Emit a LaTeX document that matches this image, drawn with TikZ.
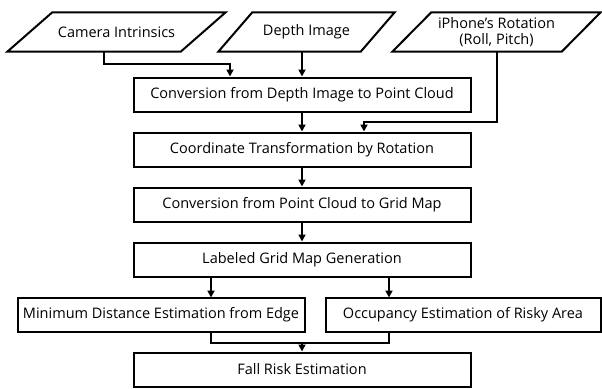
\documentclass[tikz,border=0pt]{standalone}
\usepackage{fontspec}
\setmainfont{Open Sans}
\usetikzlibrary{arrows.meta}

\begin{document}
\begin{tikzpicture}[x=1pt,y=-1pt,
    font=\fontsize{14.5}{16}\selectfont,
    inbox/.style={rectangle, minimum height=39, align=center, inner sep=1pt},
    procbox/.style={draw, line width=2pt, rectangle, minimum width=337, minimum height=34},
    flow/.style={line width=2pt, -{Triangle[length=7pt,width=7pt]}},
    plain/.style={line width=2pt, line join=miter}]
    \useasboundingbox (0,0) rectangle (602,388);
    % inputs (parallelograms drawn round their text nodes)
    \node[inbox, minimum width=218] (cam) at (116.5,32) {Camera Intrinsics};
    \node[inbox, minimum width=176] (depth) at (306.5,32) {Depth Image};
    \node[inbox, minimum width=208] (rot) at (496.5,32) {iPhone’s Rotation\\(Roll, Pitch)};
    \draw[plain] ([xshift=45pt]cam.north west) -- (cam.north east)
      -- ([xshift=-45pt]cam.south east) -- (cam.south west) -- cycle;
    \draw[plain] ([xshift=34pt]depth.north west) -- (depth.north east)
      -- ([xshift=-34pt]depth.south east) -- (depth.south west) -- cycle;
    \draw[plain] ([xshift=39pt]rot.north west) -- (rot.north east)
      -- ([xshift=-39pt]rot.south east) -- (rot.south west) -- cycle;
    % processing chain
    \node[procbox] (cloud) at (302,94.5) {Conversion from Depth Image to Point Cloud};
    \node[procbox] (trans) at (302,149.5) {Coordinate Transformation by Rotation};
    \node[procbox] (grid) at (302,204.5) {Conversion from Point Cloud to Grid Map};
    \node[procbox] (label) at (302,259.5) {Labeled Grid Map Generation};
    \node[procbox, minimum width=287] (edge) at (161,314.5) {Minimum Distance Estimation from Edge};
    \node[procbox, minimum width=275] (occ) at (463,314.5) {Occupancy Estimation of Risky Area};
    \node[procbox] (risk) at (302,369.5) {Fall Risk Estimation};
    % connectors
    \draw[flow] ([xshift=-12.5pt]cam.south) -- ++(0,12) -| ([xshift=-72pt]cloud.north);
    \draw[flow] (cloud.north |- depth.south) -- (cloud.north);
    \draw[flow] (cloud) -- (trans);
    \draw[flow] (rot.south) |- ([xshift=62pt,yshift=10pt]trans.north) -- ([xshift=62pt]trans.north);
    \draw[flow] (trans) -- (grid);
    \draw[flow] (grid) -- (label);
    \draw[flow] ([xshift=-91pt]label.south) -- ++(0,20);
    \draw[flow] ([xshift=87pt]label.south) -- ++(0,20);
    \draw[plain] ([xshift=50pt]edge.south) -- ++(0,10) -| ([xshift=-74pt]occ.south);
    \draw[flow] ([yshift=10pt]risk.north) -- (risk.north);
\end{tikzpicture}
\end{document}
